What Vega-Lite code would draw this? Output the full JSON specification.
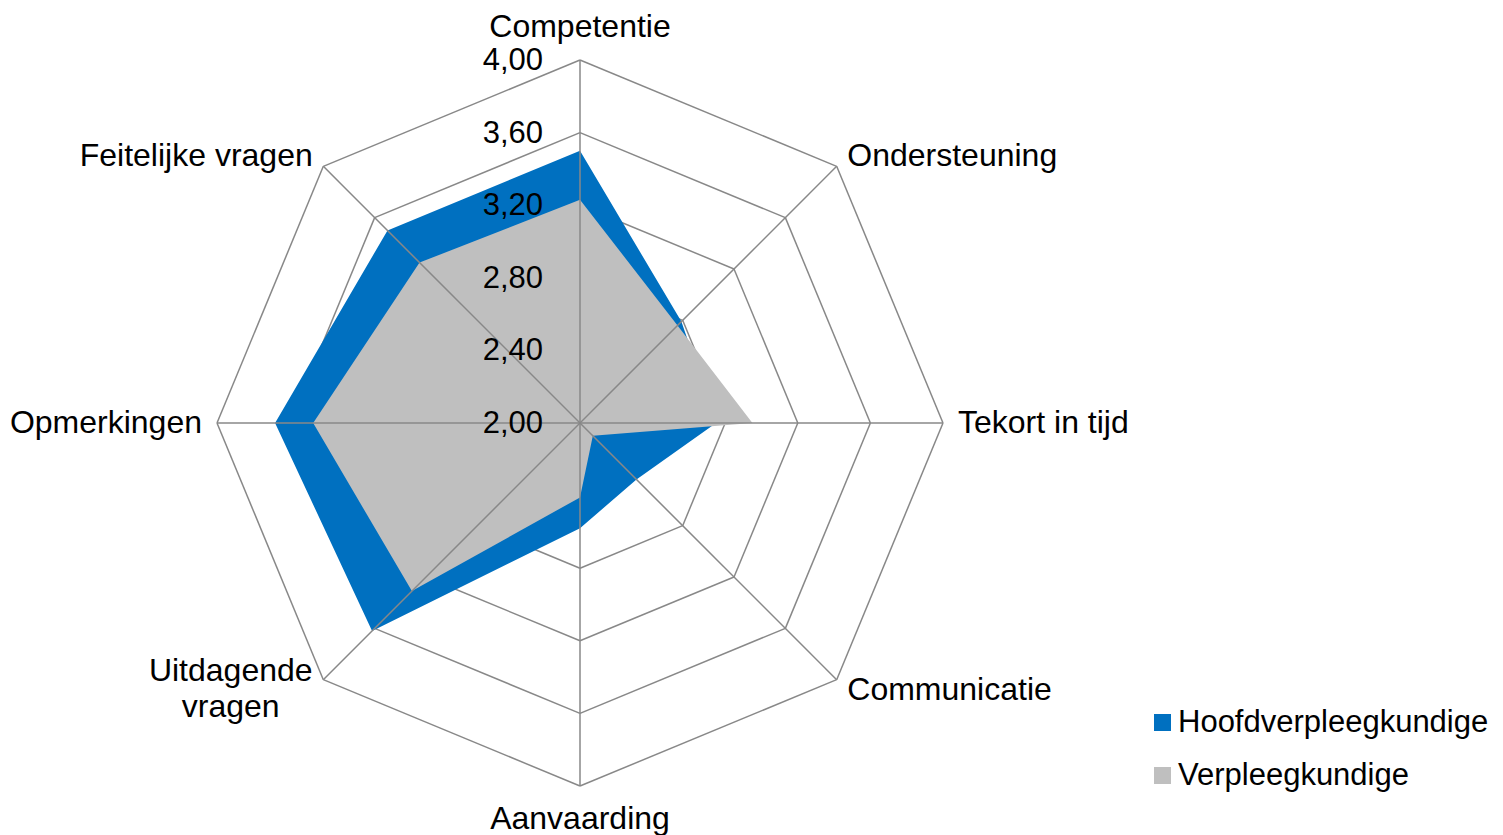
{
  "$schema": "https://vega.github.io/schema/vega-lite/v6.json",
  "width": 1503,
  "height": 835,
  "padding": 0,
  "autosize": {"type": "none"},
  "background": "white",
  "config": {
    "view": {"stroke": null},
    "text": {"font": "Liberation Sans", "fontSize": 32, "color": "black"},
    "legend": {
      "orient": "none", "legendX": 1147, "legendY": 707,
      "symbolType": "square", "symbolSize": 289, "symbolStrokeWidth": 0,
      "labelFont": "Liberation Sans", "labelFontSize": 31, "labelColor": "black",
      "labelOffset": 0, "rowPadding": 21, "padding": 0, "labelLimit": 0
    }
  },
  "datasets": {
    "axes": [
      {"axis": "Competentie", "idx": 0, "levels": [2.4, 2.8, 3.2, 3.6, 4.0]},
      {"axis": "Ondersteuning", "idx": 1, "levels": [2.4, 2.8, 3.2, 3.6, 4.0]},
      {"axis": "Tekort in tijd", "idx": 2, "levels": [2.4, 2.8, 3.2, 3.6, 4.0]},
      {"axis": "Communicatie", "idx": 3, "levels": [2.4, 2.8, 3.2, 3.6, 4.0]},
      {"axis": "Aanvaarding", "idx": 4, "levels": [2.4, 2.8, 3.2, 3.6, 4.0]},
      {"axis": "Uitdagende vragen", "idx": 5, "levels": [2.4, 2.8, 3.2, 3.6, 4.0]},
      {"axis": "Opmerkingen", "idx": 6, "levels": [2.4, 2.8, 3.2, 3.6, 4.0]},
      {"axis": "Feitelijke vragen", "idx": 7, "levels": [2.4, 2.8, 3.2, 3.6, 4.0]}
    ],
    "scores": [
      {"axis": "Competentie", "series": "Hoofdverpleegkundige", "value": 3.50},
      {"axis": "Ondersteuning", "series": "Hoofdverpleegkundige", "value": 2.79},
      {"axis": "Tekort in tijd", "series": "Hoofdverpleegkundige", "value": 2.75},
      {"axis": "Communicatie", "series": "Hoofdverpleegkundige", "value": 2.44},
      {"axis": "Aanvaarding", "series": "Hoofdverpleegkundige", "value": 2.58},
      {"axis": "Uitdagende vragen", "series": "Hoofdverpleegkundige", "value": 3.62},
      {"axis": "Opmerkingen", "series": "Hoofdverpleegkundige", "value": 3.68},
      {"axis": "Feitelijke vragen", "series": "Hoofdverpleegkundige", "value": 3.50},
      {"axis": "Competentie", "series": "Verpleegkundige", "value": 3.23},
      {"axis": "Ondersteuning", "series": "Verpleegkundige", "value": 2.76},
      {"axis": "Tekort in tijd", "series": "Verpleegkundige", "value": 2.95},
      {"axis": "Communicatie", "series": "Verpleegkundige", "value": 2.10},
      {"axis": "Aanvaarding", "series": "Verpleegkundige", "value": 2.41},
      {"axis": "Uitdagende vragen", "series": "Verpleegkundige", "value": 3.31},
      {"axis": "Opmerkingen", "series": "Verpleegkundige", "value": 3.47},
      {"axis": "Feitelijke vragen", "series": "Verpleegkundige", "value": 3.25}
    ],
    "ticks": [
      {"level": 2.0, "label": "2,00"},
      {"level": 2.4, "label": "2,40"},
      {"level": 2.8, "label": "2,80"},
      {"level": 3.2, "label": "3,20"},
      {"level": 3.6, "label": "3,60"},
      {"level": 4.0, "label": "4,00"}
    ]
  },
  "layer": [
    {
      "data": {"name": "axes"},
      "transform": [
        {"flatten": ["levels"], "as": ["level"]},
        {"calculate": "datum.idx * PI / 4", "as": "a"},
        {"calculate": "(datum.level - 2) * sin(datum.a)", "as": "x"},
        {"calculate": "(datum.level - 2) * cos(datum.a)", "as": "y"},
        {"calculate": "(datum.level - 2) * sin(datum.a + PI / 4)", "as": "x2"},
        {"calculate": "(datum.level - 2) * cos(datum.a + PI / 4)", "as": "y2"}
      ],
      "mark": {"type": "rule", "stroke": "#888888", "strokeWidth": 1.5},
      "encoding": {
        "x": {"field": "x", "type": "quantitative", "scale": {"domain": [-3.1956, 5.0854], "nice": false, "zero": false}, "axis": null},
        "y": {"field": "y", "type": "quantitative", "scale": {"domain": [-2.2700, 2.3306], "nice": false, "zero": false}, "axis": null},
        "x2": {"field": "x2"},
        "y2": {"field": "y2"}
      }
    },
    {
      "data": {"name": "scores"},
      "transform": [
        {"filter": "datum.series === 'Hoofdverpleegkundige'"},
        {"lookup": "axis", "from": {"data": {"name": "axes"}, "key": "axis", "fields": ["idx"]}},
        {"calculate": "datum.idx * PI / 4", "as": "a"},
        {"calculate": "(datum.value - 2) * sin(datum.a)", "as": "x"},
        {"calculate": "(datum.value - 2) * cos(datum.a)", "as": "y"}
      ],
      "mark": {"type": "line", "strokeWidth": 0, "strokeOpacity": 0, "fillOpacity": 1},
      "encoding": {
        "x": {"field": "x", "type": "quantitative", "scale": {"domain": [-3.1956, 5.0854], "nice": false, "zero": false}, "axis": null},
        "y": {"field": "y", "type": "quantitative", "scale": {"domain": [-2.2700, 2.3306], "nice": false, "zero": false}, "axis": null},
        "order": {"field": "idx", "type": "quantitative"},
        "fill": {"field": "series", "type": "nominal", "scale": {"domain": ["Hoofdverpleegkundige", "Verpleegkundige"], "range": ["#0070C0", "#BFBFBF"]}, "legend": {"title": null}}
      }
    },
    {
      "data": {"name": "scores"},
      "transform": [
        {"filter": "datum.series === 'Verpleegkundige'"},
        {"lookup": "axis", "from": {"data": {"name": "axes"}, "key": "axis", "fields": ["idx"]}},
        {"calculate": "datum.idx * PI / 4", "as": "a"},
        {"calculate": "(datum.value - 2) * sin(datum.a)", "as": "x"},
        {"calculate": "(datum.value - 2) * cos(datum.a)", "as": "y"}
      ],
      "mark": {"type": "line", "strokeWidth": 0, "strokeOpacity": 0, "fillOpacity": 1},
      "encoding": {
        "x": {"field": "x", "type": "quantitative", "scale": {"domain": [-3.1956, 5.0854], "nice": false, "zero": false}, "axis": null},
        "y": {"field": "y", "type": "quantitative", "scale": {"domain": [-2.2700, 2.3306], "nice": false, "zero": false}, "axis": null},
        "order": {"field": "idx", "type": "quantitative"},
        "fill": {"field": "series", "type": "nominal", "scale": {"domain": ["Hoofdverpleegkundige", "Verpleegkundige"], "range": ["#0070C0", "#BFBFBF"]}, "legend": {"title": null}}
      }
    },
    {
      "data": {"name": "axes"},
      "transform": [
        {"calculate": "datum.idx * PI / 4", "as": "a"},
        {"calculate": "0", "as": "x"},
        {"calculate": "0", "as": "y"},
        {"calculate": "2 * sin(datum.a)", "as": "x2"},
        {"calculate": "2 * cos(datum.a)", "as": "y2"}
      ],
      "mark": {"type": "rule", "stroke": "#888888", "strokeWidth": 1.5},
      "encoding": {
        "x": {"field": "x", "type": "quantitative", "scale": {"domain": [-3.1956, 5.0854], "nice": false, "zero": false}, "axis": null},
        "y": {"field": "y", "type": "quantitative", "scale": {"domain": [-2.2700, 2.3306], "nice": false, "zero": false}, "axis": null},
        "x2": {"field": "x2"},
        "y2": {"field": "y2"}
      }
    },
    {
      "data": {"name": "ticks"},
      "transform": [
        {"calculate": "0", "as": "x"},
        {"calculate": "datum.level - 2", "as": "y"}
      ],
      "mark": {"type": "text", "align": "right", "baseline": "middle", "dx": -37, "dy": 1, "fontSize": 31},
      "encoding": {
        "x": {"field": "x", "type": "quantitative", "scale": {"domain": [-3.1956, 5.0854], "nice": false, "zero": false}, "axis": null},
        "y": {"field": "y", "type": "quantitative", "scale": {"domain": [-2.2700, 2.3306], "nice": false, "zero": false}, "axis": null},
        "text": {"field": "label"}
      }
    },
    {
      "data": {"name": "axes"},
      "transform": [
        {"filter": "datum.idx === 0"},
        {"calculate": "datum.idx * PI / 4", "as": "a"},
        {"calculate": "2.0826 * sin(datum.a)", "as": "x"},
        {"calculate": "2.0826 * cos(datum.a)", "as": "y"}
      ],
      "mark": {"type": "text", "align": "center", "baseline": "middle", "dy": -18},
      "encoding": {
        "x": {"field": "x", "type": "quantitative", "scale": {"domain": [-3.1956, 5.0854], "nice": false, "zero": false}, "axis": null},
        "y": {"field": "y", "type": "quantitative", "scale": {"domain": [-2.2700, 2.3306], "nice": false, "zero": false}, "axis": null},
        "text": {"field": "axis"}
      }
    },
    {
      "data": {"name": "axes"},
      "transform": [
        {"filter": "datum.idx === 4"},
        {"calculate": "datum.idx * PI / 4", "as": "a"},
        {"calculate": "2.0826 * sin(datum.a)", "as": "x"},
        {"calculate": "2.0826 * cos(datum.a)", "as": "y"}
      ],
      "mark": {"type": "text", "align": "center", "baseline": "middle", "dy": 18},
      "encoding": {
        "x": {"field": "x", "type": "quantitative", "scale": {"domain": [-3.1956, 5.0854], "nice": false, "zero": false}, "axis": null},
        "y": {"field": "y", "type": "quantitative", "scale": {"domain": [-2.2700, 2.3306], "nice": false, "zero": false}, "axis": null},
        "text": {"field": "axis"}
      }
    },
    {
      "data": {"name": "axes"},
      "transform": [
        {"filter": "datum.idx >= 1 && datum.idx <= 3"},
        {"calculate": "datum.idx * PI / 4", "as": "a"},
        {"calculate": "2.0826 * sin(datum.a)", "as": "x"},
        {"calculate": "2.0826 * cos(datum.a)", "as": "y"}
      ],
      "mark": {"type": "text", "align": "left", "baseline": "middle"},
      "encoding": {
        "x": {"field": "x", "type": "quantitative", "scale": {"domain": [-3.1956, 5.0854], "nice": false, "zero": false}, "axis": null},
        "y": {"field": "y", "type": "quantitative", "scale": {"domain": [-2.2700, 2.3306], "nice": false, "zero": false}, "axis": null},
        "text": {"field": "axis"}
      }
    },
    {
      "data": {"name": "axes"},
      "transform": [
        {"filter": "datum.idx >= 6"},
        {"calculate": "datum.idx * PI / 4", "as": "a"},
        {"calculate": "2.0826 * sin(datum.a)", "as": "x"},
        {"calculate": "2.0826 * cos(datum.a)", "as": "y"}
      ],
      "mark": {"type": "text", "align": "right", "baseline": "middle"},
      "encoding": {
        "x": {"field": "x", "type": "quantitative", "scale": {"domain": [-3.1956, 5.0854], "nice": false, "zero": false}, "axis": null},
        "y": {"field": "y", "type": "quantitative", "scale": {"domain": [-2.2700, 2.3306], "nice": false, "zero": false}, "axis": null},
        "text": {"field": "axis"}
      }
    },
    {
      "data": {"name": "axes"},
      "transform": [
        {"filter": "datum.idx === 5"},
        {"calculate": "datum.idx * PI / 4", "as": "a"},
        {"calculate": "2.0826 * sin(datum.a)", "as": "x"},
        {"calculate": "2.0826 * cos(datum.a)", "as": "y"}
      ],
      "mark": {"type": "text", "align": "center", "baseline": "middle", "dx": -82, "dy": -19, "lineBreak": " ", "lineHeight": 36},
      "encoding": {
        "x": {"field": "x", "type": "quantitative", "scale": {"domain": [-3.1956, 5.0854], "nice": false, "zero": false}, "axis": null},
        "y": {"field": "y", "type": "quantitative", "scale": {"domain": [-2.2700, 2.3306], "nice": false, "zero": false}, "axis": null},
        "text": {"field": "axis"}
      }
    }
  ]
}
